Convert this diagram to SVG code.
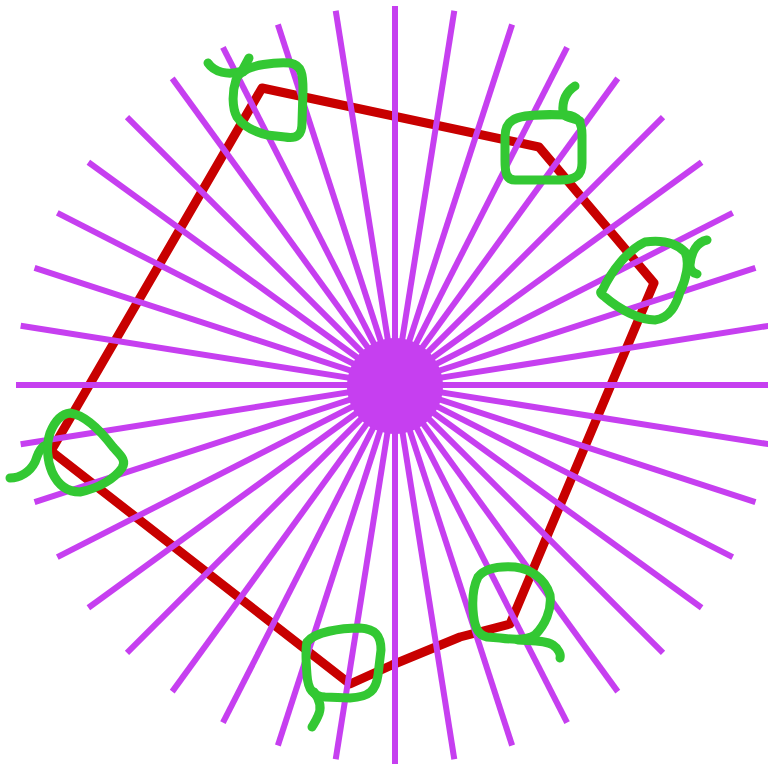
<svg xmlns="http://www.w3.org/2000/svg" width="768" height="767" viewBox="0 0 768 767">
<style>
.ray{stroke:#c63ff0;stroke-width:6;fill:none}
.hex{stroke:#c80000;stroke-width:9;fill:none;stroke-linejoin:round}
.loop{stroke:#33c833;stroke-width:9;fill:none;stroke-linecap:round;stroke-linejoin:round}
</style>
<defs>
<line id="ray" x1="395" y1="6" x2="395" y2="764"/>
</defs>
<rect width="768" height="767" fill="#ffffff"/>
<g id="hexagon">
<polygon class="hex" points="262,88 539,147 654,283 510,624 460,637 392,665 350,684 51,451"/>
</g>
<g id="rays" class="ray">
<use href="#ray" transform="rotate(0 395 385)"/>
<use href="#ray" transform="rotate(9 395 385)"/>
<use href="#ray" transform="rotate(18 395 385)"/>
<use href="#ray" transform="rotate(27 395 385)"/>
<use href="#ray" transform="rotate(36 395 385)"/>
<use href="#ray" transform="rotate(45 395 385)"/>
<use href="#ray" transform="rotate(54 395 385)"/>
<use href="#ray" transform="rotate(63 395 385)"/>
<use href="#ray" transform="rotate(72 395 385)"/>
<use href="#ray" transform="rotate(81 395 385)"/>
<use href="#ray" transform="rotate(90 395 385)"/>
<use href="#ray" transform="rotate(99 395 385)"/>
<use href="#ray" transform="rotate(108 395 385)"/>
<use href="#ray" transform="rotate(117 395 385)"/>
<use href="#ray" transform="rotate(126 395 385)"/>
<use href="#ray" transform="rotate(135 395 385)"/>
<use href="#ray" transform="rotate(144 395 385)"/>
<use href="#ray" transform="rotate(153 395 385)"/>
<use href="#ray" transform="rotate(162 395 385)"/>
<use href="#ray" transform="rotate(171 395 385)"/>
<circle cx="395" cy="386" r="48" fill="#c63ff0" stroke="none"/>
</g>
<g id="loop1" class="loop">
<path d="M208,63 C214,72 228,76 242,71 L249,58"/>
<path d="M243,72 C250,65 275,62 290,63 C302,65 303,75 303,90 L302,123 C302,135 297,139 285,137 L267,135 C255,132 243,126 237,117 C232,108 232,92 236,80 C238,75 240,73 243,72 Z"/>
</g>
<g id="loop2" class="loop">
<path d="M575,86 C566,92 562,100 563,112 C564,118 572,118 580,121"/>
<path d="M513,120 C520,115 545,114 567,115 C578,116 582,122 582,135 L582,163 C582,175 576,180 560,180 L515,180 C506,180 505,172 505,160 L505,137 C505,128 508,123 513,120 Z"/>
</g>
<g id="loop3" class="loop">
<path d="M707,240 C697,242 691,252 690,265 C690,270 693,273 697,274"/>
<path d="M602,291 C612,270 628,250 645,242 C660,240 675,242 685,252 C690,262 686,280 680,292 C676,305 670,318 655,320 C640,320 620,310 605,297 C600,294 600,292 602,291 Z"/>
</g>
<g id="loop4" class="loop">
<path d="M10,478 C20,478 30,472 35,462 C38,455 38,450 44,446"/>
<path d="M70,413 C85,415 100,430 113,447 C120,455 127,460 122,468 C115,478 100,488 80,492 C68,492 58,485 52,472 C47,460 46,445 50,433 C54,423 60,414 70,413 Z"/>
</g>
<g id="loop5" class="loop">
<path d="M518,640 C530,641 545,640 553,645 C559,649 561,655 560,658"/>
<path d="M478,577 C485,568 500,566 515,567 C530,569 545,578 550,595 C552,610 545,625 535,635 C528,640 515,640 500,638 L487,637 C477,635 474,625 473,610 C472,595 474,585 478,577 Z"/>
</g>
<g id="loop6" class="loop">
<path d="M314,692 C320,700 322,708 318,716 C316,721 313,725 312,727"/>
<path d="M307,642 C315,632 340,628 360,628 C375,629 381,635 381,650 L378,675 C376,690 370,697 350,698 L325,697 C313,696 308,690 307,675 C306,662 305,650 307,642 Z"/>
</g>
</svg>
